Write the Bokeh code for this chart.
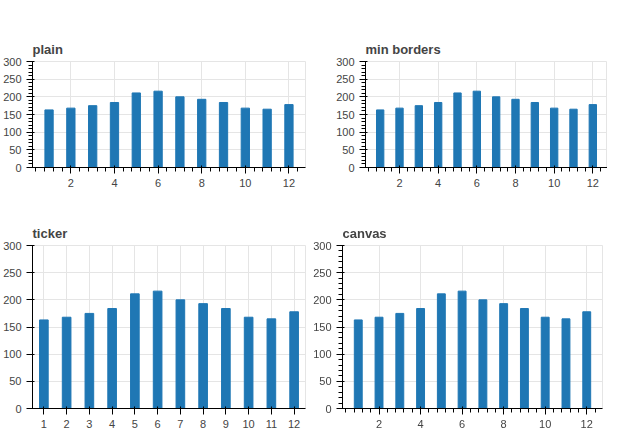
from bokeh.plotting import figure
from bokeh.models import Range1d, FixedTicker, Spacer
from bokeh.layouts import column, row
from bokeh.embed import file_html
from bokeh.resources import INLINE

benin_avg5 = [163, 168, 175, 184, 211, 216, 200, 193, 184, 168, 165, 178]
xs = list(range(1, 13))

# p1 plain
p1 = figure(width=310, height=218, output_backend="svg", toolbar_location=None,
            y_range=Range1d(0, 300), title="plain")
p1.vbar(x=xs, top=benin_avg5, width=0.38)

# p2 plain + min borders
p2 = figure(width=297, height=218, output_backend="svg", toolbar_location=None,
            y_range=Range1d(0, 300), title="min borders",
            min_border_left=55, min_border_right=0, min_border_top=61, min_border_bottom=51)
p2.vbar(x=xs, top=benin_avg5, width=0.38)

# p3 plain + x_range Range1d + fixed ticker
p3 = figure(width=310, height=212, output_backend="svg", toolbar_location=None,
            x_range=Range1d(0.5, 12.5), y_range=Range1d(0, 300), title="ticker")
p3.vbar(x=xs, top=benin_avg5, width=0.38)
p3.yaxis.ticker = FixedTicker(ticks=[0, 50, 100, 150, 200, 250, 300])
p3.xaxis.ticker = FixedTicker(ticks=xs)

# p4 canvas backend
p4 = figure(width=297, height=212, toolbar_location=None,
            y_range=Range1d(0, 300), title="canvas")
p4.vbar(x=xs, top=benin_avg5, width=0.38)

layout = column(row(p1, p2), row(p3, p4))
open("out.html", "w").write(file_html(layout, INLINE))
